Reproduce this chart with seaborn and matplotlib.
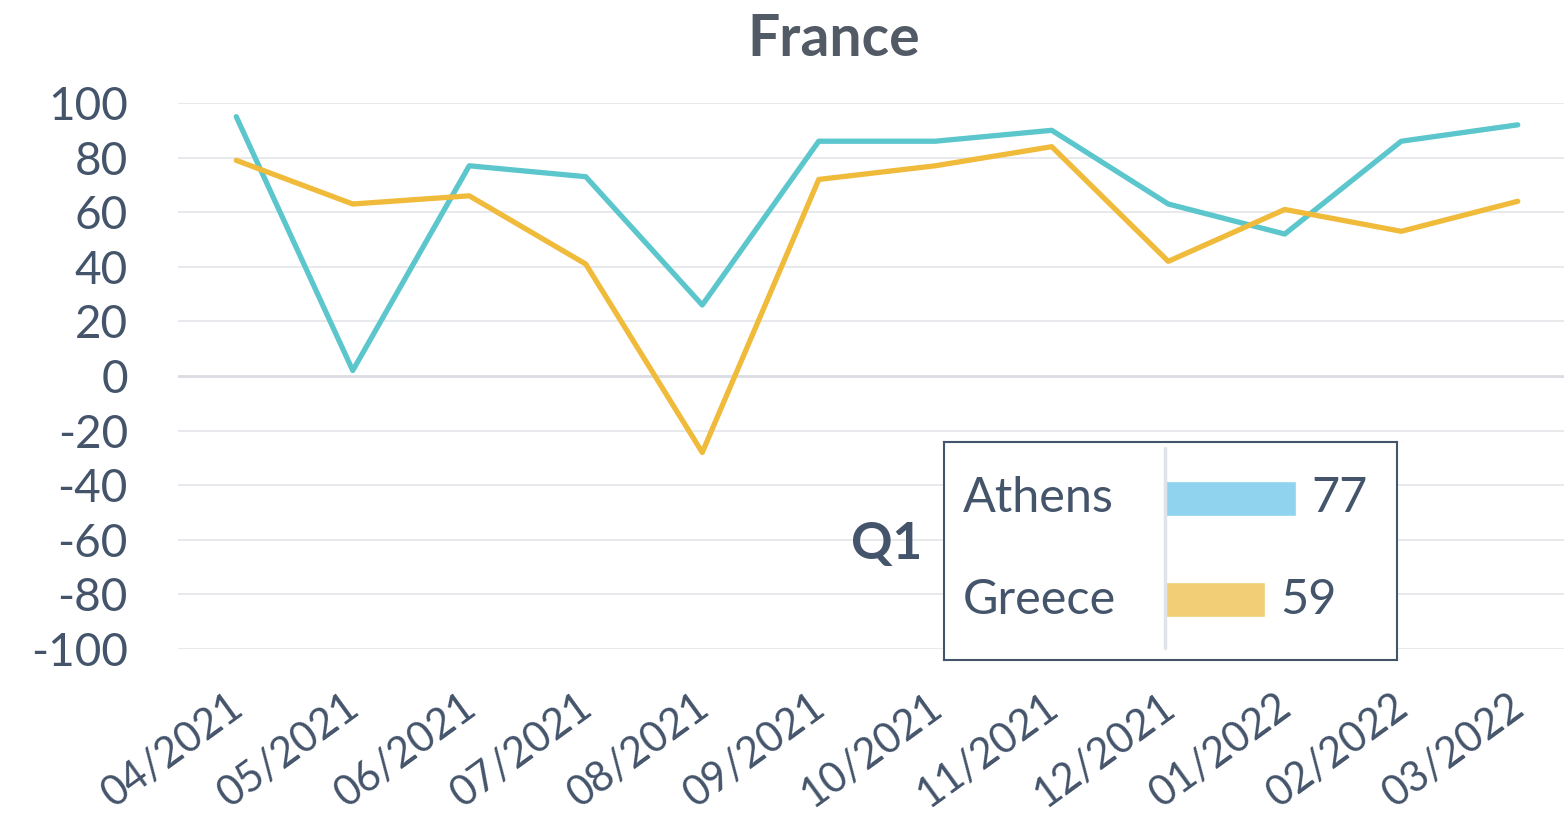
import pandas as pd
import matplotlib
matplotlib.use('Agg')
import matplotlib.pyplot as plt
import seaborn as sns

months = ['04/2021', '05/2021', '06/2021', '07/2021', '08/2021', '09/2021',
          '10/2021', '11/2021', '12/2021', '01/2022', '02/2022', '03/2022']
athens = [95, 2, 77, 73, 26, 86, 86, 90, 63, 52, 86, 92]
greece = [79, 63, 66, 41, -28, 72, 77, 84, 42, 61, 53, 64]

q1_names = ['Athens', 'Greece']
q1_values = [77, 59]

teal = '#5BC6CC'
gold = '#F0BA3A'
bar_colors = ['#8FD3EE', '#F2CF76']
txt = '#44546A'

sns.set_theme(style='white')
plt.rcParams['font.family'] = ['Lato', 'DejaVu Sans']
plt.rcParams['axes.unicode_minus'] = False

df = pd.DataFrame({'month': months * 2,
                   'value': athens + greece,
                   'series': ['Athens'] * len(months) + ['Greece'] * len(months)})
df['pos'] = list(range(len(months))) * 2

fig = plt.figure(figsize=(15.64, 8.26), dpi=100)
ax = fig.add_axes([178 / 1564, 1 - 649 / 826, (1576 - 178) / 1564, 546 / 826])

for y in range(-100, 101, 20):
    if y != 0:
        ax.axhline(y, color='#E6E7EC', lw=1.3, zorder=0)
ax.axhline(0, color='#DADCE2', lw=2, zorder=1)

sns.lineplot(data=df, x='pos', y='value', hue='series', palette=[teal, gold],
             linewidth=3.8, legend=False, ax=ax, zorder=3,
             solid_capstyle='round', solid_joinstyle='round')

ax.set_xlim(-0.5, 11.5)
ax.set_ylim(-100, 100)
ax.set_yticks(range(-100, 101, 20))
ax.set_xticks(range(len(months)))
ax.set_xticklabels(months, rotation=36, ha='right', va='center_baseline',
                   rotation_mode='anchor', fontsize=30, color=txt)
ax.tick_params(axis='y', labelsize=33, labelcolor=txt, length=0, pad=36)
ax.tick_params(axis='x', length=0, pad=36)
ax.set_xlabel('')
ax.set_ylabel('')
for s in ax.spines.values():
    s.set_visible(False)
ax.patch.set_alpha(0)

fig.text(834 / 1564, 1 - 40 / 826, 'France', ha='center', va='center',
         fontsize=41, fontweight='bold', color='#525A66')
fig.text(922 / 1564, 1 - 545 / 826, 'Q1', ha='right', va='center',
         fontsize=37, fontweight='bold', color=txt)

# Q1 inset
ins = fig.add_axes([944 / 1564, 1 - 660 / 826, 453 / 1564, 218 / 826])
ins.set_zorder(5)
ins.set_facecolor('white')
qdf = pd.DataFrame({'name': q1_names, 'value': q1_values})
sns.barplot(data=qdf, x='value', y='name', hue='name', palette=bar_colors,
            width=0.35, legend=False, ax=ins, saturation=1)
ins.set_xlim(-(1165 - 944) / 1.70, (1397 - 1165) / 1.70)
ins.set_ylim(1 + 60.5 / 101, -56.5 / 101)
ins.axvline(0, ymin=12 / 218, ymax=212 / 218, color='#E0E3E8', lw=2.5)
for i, (n, v) in enumerate(zip(q1_names, q1_values)):
    ins.text(-119, i, n, ha='left', va='center', fontsize=35, color=txt)
    ins.text(v + 9, i, str(v), ha='left', va='center', fontsize=35, color=txt)
ins.set_xticks([])
ins.set_yticks([])
ins.set_xlabel('')
ins.set_ylabel('')
for s in ins.spines.values():
    s.set_color(txt)
    s.set_linewidth(1.5)

fig.savefig('out.png', dpi=100)
